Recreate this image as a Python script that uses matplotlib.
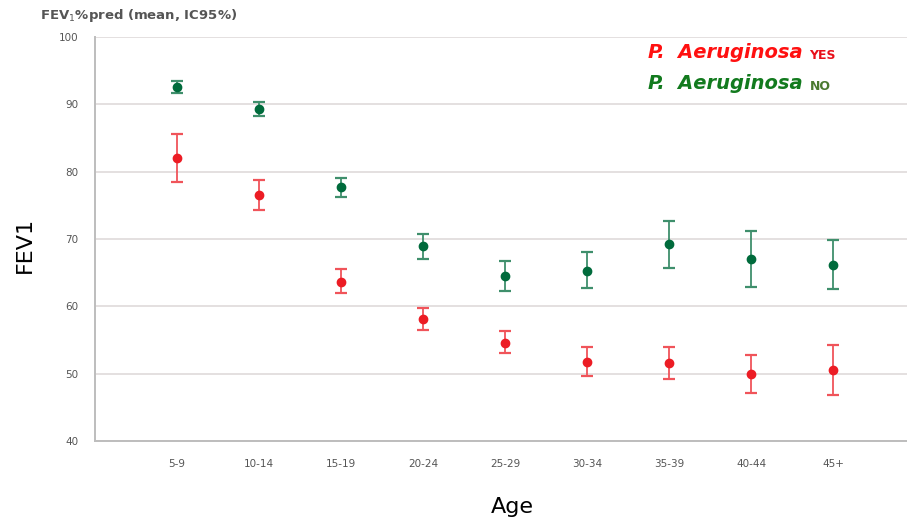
import numpy as np
import matplotlib
matplotlib.use("Agg")
import matplotlib.pyplot as plt

# --- Data ---
age_groups = ["5-9", "10-14", "15-19", "20-24", "25-29", "30-34", "35-39", "40-44", "45+"]

# P. aeruginosa NO (green)
no_mean = [92.6, 89.3, 77.7, 69.0, 64.5, 65.3, 69.2, 67.0, 66.1]
no_low = [91.7, 88.3, 76.2, 67.1, 62.3, 62.7, 65.7, 62.9, 62.6]
no_high = [93.5, 90.3, 79.1, 70.8, 66.8, 68.0, 72.6, 71.2, 69.9]

# P. aeruginosa YES (red)
yes_mean = [82.0, 76.5, 63.6, 58.1, 54.6, 51.7, 51.6, 50.0, 50.5]
yes_low = [78.5, 74.3, 62.0, 56.5, 53.0, 49.7, 49.2, 47.2, 46.8]
yes_high = [85.6, 78.8, 65.5, 59.7, 56.4, 54.0, 54.0, 52.8, 54.2]

y_ticks = [40, 50, 60, 70, 80, 90, 100]

GREEN = "#006b3c"
GREEN_BAR = "#3f8f6c"
RED = "#ec1c24"
RED_BAR = "#f0545a"

W, H = 907, 522
fig = plt.figure(figsize=(W / 100, H / 100), dpi=100)
ax = fig.add_axes([95 / W, 1 - 441 / H, 812 / W, 404 / H])

x = np.arange(len(age_groups))


def draw_series(mean, low, high, color, bar_color):
    mean = np.array(mean)
    err = [mean - np.array(low), np.array(high) - mean]
    ax.errorbar(x, mean, yerr=err, fmt="none", ecolor=bar_color, elinewidth=1.3,
                capsize=4.5, capthick=1.6, zorder=3)
    ax.plot(x, mean, "o", color=color, markersize=6, zorder=4)


draw_series(no_mean, no_low, no_high, GREEN, GREEN_BAR)
draw_series(yes_mean, yes_low, yes_high, RED, RED_BAR)

# --- Axes styling ---
ax.set_xlim(-1, 8.9)
ax.set_ylim(40, 100)
ax.set_yticks(y_ticks)
ax.set_xticks(x)
ax.set_xticklabels(age_groups)
ax.tick_params(axis="both", length=0, labelsize=7.5, colors="#555555")
ax.tick_params(axis="x", pad=13)
ax.tick_params(axis="y", pad=12)
ax.grid(axis="y", color="#e4e0e0", linewidth=1.4, zorder=0)
ax.set_axisbelow(True)
for side in ["top", "right"]:
    ax.spines[side].set_visible(False)
for side in ["left", "bottom"]:
    ax.spines[side].set_color("#bdbdbd")
    ax.spines[side].set_linewidth(1.4)

# --- Titles / labels ---
fig.text(40 / W, 1 - 16 / H, "FEV$_1$%pred (mean, IC95%)", fontsize=9.5, fontweight="bold",
         color="#555555", ha="left", va="center")
fig.text(25 / W, 1 - 245 / H, "FEV1", fontsize=16, rotation=90, ha="center", va="center")
fig.text(512 / W, 1 - 507 / H, "Age", fontsize=16, ha="center", va="center")

# --- Legend-like labels ---
t1 = fig.text(648 / W, 1 - 58 / H, "P.  Aeruginosa", fontsize=14, style="italic",
              fontweight="bold", color="#ff1010", ha="left", va="baseline")
ax.annotate("YES", xy=(1, 0), xycoords=t1, xytext=(5, 0), textcoords="offset points",
            fontsize=9, fontweight="bold", color="#e8101a", ha="left", va="bottom")
t2 = fig.text(648 / W, 1 - 89 / H, "P.  Aeruginosa", fontsize=14, style="italic",
              fontweight="bold", color="#127a1e", ha="left", va="baseline")
ax.annotate("NO", xy=(1, 0), xycoords=t2, xytext=(5, 0), textcoords="offset points",
            fontsize=9, fontweight="bold", color="#4a7a30", ha="left", va="bottom")

fig.savefig("out.png", dpi=100)
